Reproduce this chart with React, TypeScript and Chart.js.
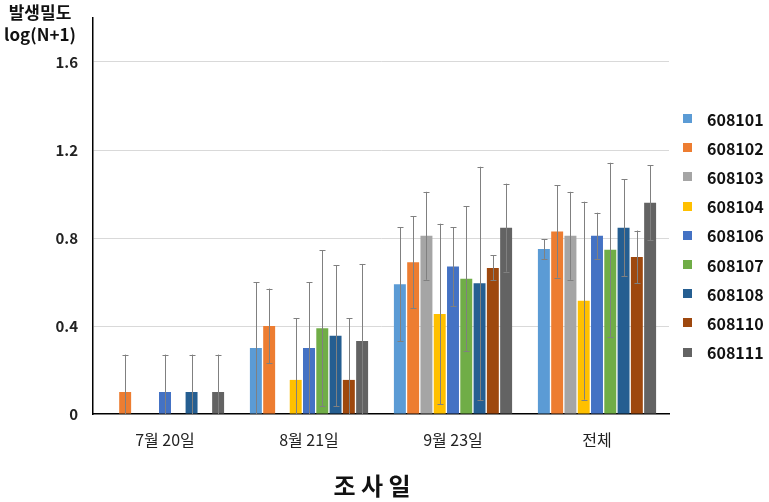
import React, { useEffect, useRef } from 'react';
import { Chart, registerables } from 'chart.js';

Chart.register(...registerables);

const categories = ['7월 20일', '8월 21일', '9월 23일', '전체'];
const seriesNames = ['608101', '608102', '608103', '608104', '608106', '608107', '608108', '608110', '608111'];
const seriesColors = ['#5B9BD5', '#ED7D31', '#A5A5A5', '#FFC000', '#4472C4', '#70AD47', '#255E91', '#9E480E', '#636363'];

const v608101 = [0, 0.30, 0.59, 0.75];
const v608102 = [0.10, 0.40, 0.69, 0.83];
const v608103 = [0, 0, 0.81, 0.81];
const v608104 = [0, 0.155, 0.455, 0.515];
const v608106 = [0.10, 0.30, 0.67, 0.81];
const v608107 = [0, 0.39, 0.615, 0.747];
const v608108 = [0.10, 0.356, 0.594, 0.847];
const v608110 = [0, 0.155, 0.664, 0.714];
const v608111 = [0.10, 0.332, 0.847, 0.96];

const e608101 = [0, 0.30, 0.26, 0.045];
const e608102 = [0.17, 0.17, 0.21, 0.21];
const e608103 = [0, 0, 0.20, 0.20];
const e608104 = [0, 0.28, 0.41, 0.45];
const e608106 = [0.17, 0.30, 0.18, 0.105];
const e608107 = [0, 0.355, 0.33, 0.395];
const e608108 = [0.17, 0.32, 0.53, 0.22];
const e608110 = [0, 0.28, 0.057, 0.12];
const e608111 = [0.17, 0.35, 0.20, 0.17];

const seriesValues = [v608101, v608102, v608103, v608104, v608106, v608107, v608108, v608110, v608111];
const seriesErrors = [e608101, e608102, e608103, e608104, e608106, e608107, e608108, e608110, e608111];

const yTicks = [0, 0.4, 0.8, 1.2, 1.6];
const yTitle = ['발생밀도', 'log(N+1)'];
const xTitle = '조 사 일';

const FONT = "'Noto Sans CJK KR', 'Noto Sans', sans-serif";

const extrasPlugin = {
  id: 'extras',
  afterDatasetsDraw(chart: any) {
    const ctx = chart.ctx;
    const yScale = chart.scales.y;
    ctx.save();
    ctx.strokeStyle = '#808080';
    ctx.lineWidth = 1;
    chart.data.datasets.forEach((ds: any, i: number) => {
      const meta = chart.getDatasetMeta(i);
      const errs = seriesErrors[i];
      meta.data.forEach((bar: any, j: number) => {
        const v = ds.data[j];
        const e = errs[j];
        if (!v || !e) return;
        const x = Math.round(bar.x) + 0.5;
        const yTop = yScale.getPixelForValue(v + e);
        const yBot = yScale.getPixelForValue(Math.max(0, v - e));
        ctx.beginPath();
        ctx.moveTo(x, yTop);
        ctx.lineTo(x, yBot);
        ctx.moveTo(x - 3, Math.round(yTop) + 0.5);
        ctx.lineTo(x + 3, Math.round(yTop) + 0.5);
        if (v - e > 0) {
          ctx.moveTo(x - 3, Math.round(yBot) + 0.5);
          ctx.lineTo(x + 3, Math.round(yBot) + 0.5);
        }
        ctx.stroke();
      });
    });
    ctx.restore();
  },
  afterDraw(chart: any) {
    const ctx = chart.ctx;
    ctx.save();
    ctx.fillStyle = '#111';
    ctx.font = `bold 17px ${FONT}`;
    ctx.textAlign = 'center';
    ctx.textBaseline = 'middle';
    ctx.fillText(yTitle[0], 40, 13);
    ctx.fillText(yTitle[1], 40, 35);
    ctx.font = `bold 24px ${FONT}`;
    ctx.fillText(xTitle, 372, 486);
    ctx.textAlign = 'left';
    ctx.font = `bold 16px ${FONT}`;
    seriesNames.forEach((name, i) => {
      const cy = 118.5 + i * 29.2;
      ctx.fillStyle = seriesColors[i];
      ctx.fillRect(683, Math.round(cy - 4.5), 9, 9);
      ctx.fillStyle = '#111';
      ctx.fillText(name, 707, cy + 1);
    });
    ctx.restore();
  },
};

export default function App() {
  const ref = useRef<HTMLCanvasElement>(null);
  useEffect(() => {
    if (!ref.current) return;
    const chart = new Chart(ref.current, {
      type: 'bar',
      data: {
        labels: categories,
        datasets: seriesNames.map((name, i) => ({
          label: name,
          data: seriesValues[i],
          backgroundColor: seriesColors[i],
          borderWidth: 0,
          barPercentage: 0.9,
          categoryPercentage: 0.83,
        })),
      },
      options: {
        animation: false,
        responsive: false,
        maintainAspectRatio: false,
        layout: { padding: { left: 0, right: 100, top: 18, bottom: 0 } },
        plugins: { legend: { display: false }, tooltip: { enabled: false }, title: { display: false } },
        scales: {
          x: {
            grid: { display: false, drawTicks: false },
            border: { display: true, color: '#000', width: 1.5 },
            ticks: { color: '#222', font: { family: FONT, size: 16 }, padding: 16 },
            afterFit: (s: any) => { s.height = 88; s.paddingLeft = 0; s.paddingRight = 0; },
          },
          y: {
            min: 0,
            max: 1.8,
            afterBuildTicks: (s: any) => { s.ticks = [...yTicks, 1.8].map((v) => ({ value: v })); },
            grid: {
              drawTicks: false,
              color: (c: any) => (c.tick && c.tick.value > 0 && c.tick.value < 1.7 ? '#d9d9d9' : 'rgba(0,0,0,0)'),
              lineWidth: 1,
            },
            border: { display: true, color: '#000', width: 1.5 },
            ticks: {
              color: '#222',
              font: { family: FONT, size: 15, weight: 'bold' },
              padding: 15,
              callback: (v: any) => (v > 1.7 ? '' : v === 0 ? '0' : Number(v).toFixed(1)),
            },
            afterFit: (s: any) => { s.width = 93; s.paddingTop = 0; s.paddingBottom = 0; },
          },
        },
      },
      plugins: [extrasPlugin],
    } as any);
    return () => chart.destroy();
  }, []);
  return (
    <div style={{ position: 'absolute', left: 0, top: 0, width: 769, height: 502, background: '#fff' }}>
      <canvas ref={ref} width={769} height={502} style={{ display: 'block' }} />
    </div>
  );
}
